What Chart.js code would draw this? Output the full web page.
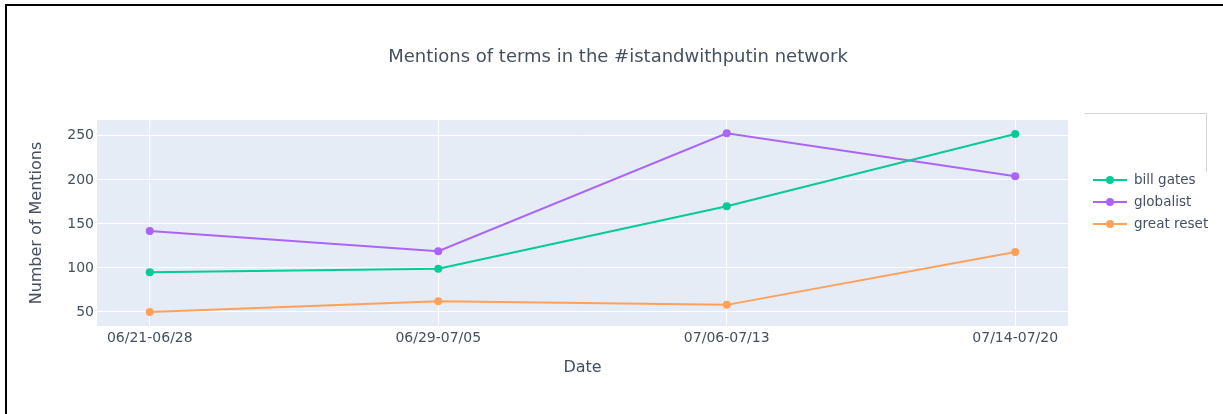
<!DOCTYPE html>
<html>
<head>
<meta charset="utf-8">
<script src="https://cdn.jsdelivr.net/npm/chart.js@4/dist/chart.umd.min.js"></script>
<style>
  html, body { margin: 0; padding: 0; background: #fff; }
  #wrap { position: relative; width: 1223px; height: 414px; }
</style>
</head>
<body>
<div id="wrap"><canvas id="mentionsChart" width="1223" height="414"></canvas></div>
<script>
// Données
const weeks = ["06/21-06/28", "06/29-07/05", "07/06-07/13", "07/14-07/20"];
const billGates = [95, 99, 170, 252];
const globalist = [142, 119, 253, 204];
const greatReset = [50, 62, 58, 118];
const yTicks = [50, 100, 150, 200, 250];

const seriesNames = ["bill gates", "globalist", "great reset"];
const seriesColors = ["#00cc96", "#ab63fa", "#ffa15a"];
const seriesValues = [billGates, globalist, greatReset];

const textColor = "#44505f";
const fontFamily = "'DejaVu Sans', Verdana, sans-serif";

// fond de la zone de tracé, bordure, titre et légende
const decorPlugin = {
  id: "decor",
  beforeDraw(chart) {
    const { ctx, chartArea: a } = chart;
    ctx.save();
    ctx.fillStyle = "#ffffff";
    ctx.fillRect(0, 0, chart.width, chart.height);
    ctx.fillStyle = "#e5ecf6";
    ctx.fillRect(a.left, a.top, a.right - a.left, a.bottom - a.top);
    ctx.restore();
  },
  afterDraw(chart) {
    const { ctx } = chart;
    ctx.save();
    // bordure noire (gauche et haut)
    ctx.fillStyle = "#000";
    ctx.fillRect(5, 4, 2, chart.height - 4);
    ctx.fillRect(5, 4, chart.width - 5, 2);

    // titre
    ctx.fillStyle = textColor;
    ctx.font = "18px " + fontFamily;
    ctx.textAlign = "center";
    ctx.textBaseline = "middle";
    ctx.fillText("Mentions of terms in the #istandwithputin network", 618, 57);

    // cadre clair au-dessus de la légende
    ctx.strokeStyle = "#d4d4d4";
    ctx.lineWidth = 1;
    ctx.beginPath();
    ctx.moveTo(1084, 113.5);
    ctx.lineTo(1206.5, 113.5);
    ctx.lineTo(1206.5, 172);
    ctx.stroke();

    // légende
    ctx.font = "13.5px " + fontFamily;
    ctx.textAlign = "left";
    seriesNames.forEach((name, i) => {
      const y = 180 + i * 22;
      ctx.strokeStyle = seriesColors[i];
      ctx.lineWidth = 2;
      ctx.beginPath();
      ctx.moveTo(1093, y);
      ctx.lineTo(1127, y);
      ctx.stroke();
      ctx.fillStyle = seriesColors[i];
      ctx.beginPath();
      ctx.arc(1110, y, 4, 0, Math.PI * 2);
      ctx.fill();
      ctx.fillStyle = textColor;
      ctx.fillText(name, 1134, y);
    });
    ctx.restore();
  }
};

new Chart(document.getElementById("mentionsChart"), {
  type: "line",
  data: {
    datasets: seriesNames.map((name, i) => ({
      label: name,
      data: seriesValues[i].map((v, j) => ({ x: j, y: v })),
      borderColor: seriesColors[i],
      backgroundColor: seriesColors[i],
      pointBackgroundColor: seriesColors[i],
      borderWidth: 2,
      pointRadius: 4,
      pointBorderWidth: 0,
      tension: 0,
      fill: false
    }))
  },
  options: {
    responsive: false,
    animation: false,
    layout: { padding: { left: 0, right: 155, top: 120, bottom: 0 } },
    plugins: {
      legend: { display: false },
      title: { display: false },
      tooltip: { enabled: false }
    },
    scales: {
      x: {
        type: "linear",
        min: -0.183,
        max: 3.183,
        afterFit: (scale) => { scale.height = 88; },
        border: { display: false },
        grid: { color: "#ffffff", lineWidth: 1, drawTicks: false },
        ticks: {
          stepSize: 1,
          includeBounds: false,
          autoSkip: false,
          maxRotation: 0,
          padding: 4,
          color: textColor,
          font: { family: fontFamily, size: 14 },
          callback: (v) => Number.isInteger(v) ? weeks[v] : ""
        },
        title: {
          display: true,
          text: "Date",
          color: textColor,
          font: { family: fontFamily, size: 16 },
          padding: { top: 0, bottom: 37 }
        }
      },
      y: {
        min: 34,
        max: 268,
        afterFit: (scale) => { scale.width = 97; },
        afterBuildTicks: (scale) => { scale.ticks = yTicks.map(v => ({ value: v })); },
        border: { display: false },
        grid: { color: "#ffffff", lineWidth: 1, drawTicks: false },
        ticks: {
          padding: 3,
          color: textColor,
          font: { family: fontFamily, size: 14 }
        },
        title: {
          display: true,
          text: "Number of Mentions",
          color: textColor,
          font: { family: fontFamily, size: 16 },
          padding: { top: 27, bottom: 0 }
        }
      }
    }
  },
  plugins: [decorPlugin]
});
</script>
</body>
</html>
